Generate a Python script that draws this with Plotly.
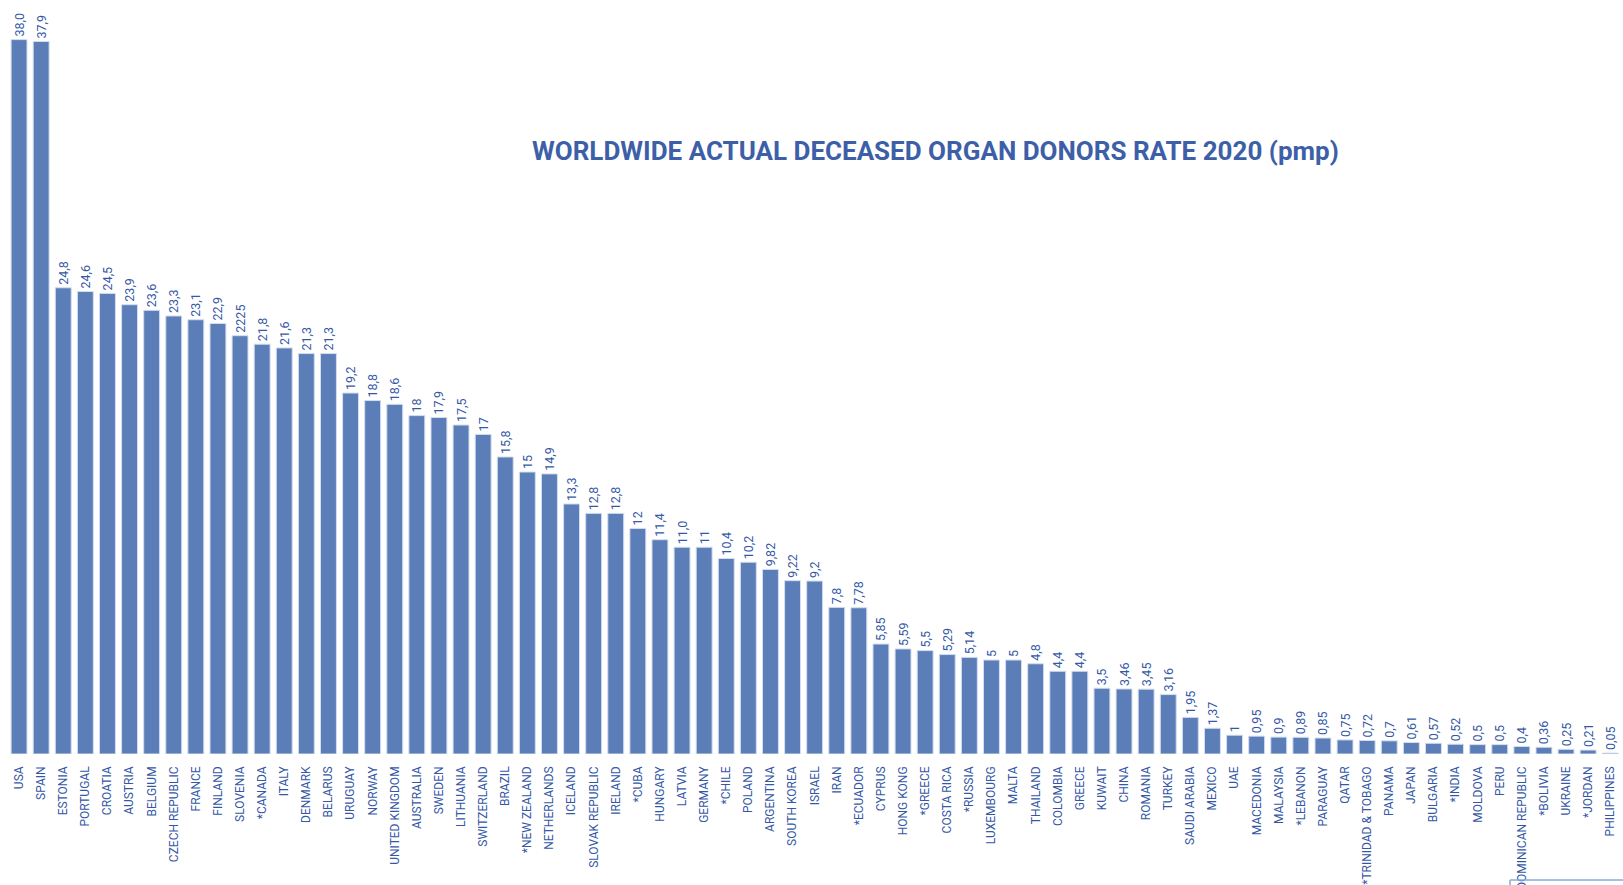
import plotly.graph_objects as go

countries = ["USA", "SPAIN", "ESTONIA", "PORTUGAL", "CROATIA", "AUSTRIA", "BELGIUM",
             "CZECH REPUBLIC", "FRANCE", "FINLAND", "SLOVENIA", "*CANADA", "ITALY",
             "DENMARK", "BELARUS", "URUGUAY", "NORWAY", "UNITED KINGDOM", "AUSTRALIA",
             "SWEDEN", "LITHUANIA", "SWITZERLAND", "BRAZIL", "*NEW ZEALAND", "NETHERLANDS",
             "ICELAND", "SLOVAK REPUBLIC", "IRELAND", "*CUBA", "HUNGARY", "LATVIA",
             "GERMANY", "*CHILE", "POLAND", "ARGENTINA", "SOUTH KOREA", "ISRAEL", "IRAN",
             "*ECUADOR", "CYPRUS", "HONG KONG", "*GREECE", "COSTA RICA", "*RUSSIA",
             "LUXEMBOURG", "MALTA", "THAILAND", "COLOMBIA", "GREECE", "KUWAIT", "CHINA",
             "ROMANIA", "TURKEY", "SAUDI ARABIA", "MEXICO", "UAE", "MACEDONIA", "MALAYSIA",
             "*LEBANON", "PARAGUAY", "QATAR", "*TRINIDAD & TOBAGO", "PANAMA", "JAPAN",
             "BULGARIA", "*INDIA", "MOLDOVA", "PERU", "DOMINICAN REPUBLIC", "*BOLIVIA",
             "UKRAINE", "*JORDAN", "PHILIPPINES"]

rates = [38.0, 37.9, 24.8, 24.6, 24.5, 23.9, 23.6, 23.3, 23.1, 22.9, 22.25, 21.8, 21.6,
         21.3, 21.3, 19.2, 18.8, 18.6, 18.0, 17.9, 17.5, 17.0, 15.8, 15.0, 14.9, 13.3,
         12.8, 12.8, 12.0, 11.4, 11.0, 11.0, 10.4, 10.2, 9.82, 9.22, 9.2, 7.8, 7.78, 5.85,
         5.59, 5.5, 5.29, 5.14, 5.0, 5.0, 4.8, 4.4, 4.4, 3.5, 3.46, 3.45, 3.16, 1.95, 1.37,
         1.0, 0.95, 0.9, 0.89, 0.85, 0.75, 0.72, 0.7, 0.61, 0.57, 0.52, 0.5, 0.5, 0.4,
         0.36, 0.25, 0.21, 0.05]

value_labels = ["38,0", "37,9", "24,8", "24,6", "24,5", "23,9", "23,6", "23,3", "23,1",
                "22,9", "2225", "21,8", "21,6", "21,3", "21,3", "19,2", "18,8", "18,6",
                "18", "17,9", "17,5", "17", "15,8", "15", "14,9", "13,3", "12,8", "12,8",
                "12", "11,4", "11,0", "11", "10,4", "10,2", "9,82", "9,22", "9,2", "7,8",
                "7,78", "5,85", "5,59", "5,5", "5,29", "5,14", "5", "5", "4,8", "4,4", "4,4",
                "3,5", "3,46", "3,45", "3,16", "1,95", "1,37", "1", "0,95", "0,9", "0,89",
                "0,85", "0,75", "0,72", "0,7", "0,61", "0,57", "0,52", "0,5", "0,5", "0,4",
                "0,36", "0,25", "0,21", "0,05"]

title_text = "WORLDWIDE ACTUAL DECEASED ORGAN DONORS RATE 2020 (pmp)"

W, H = 1623, 885
ML, MR, MT, MB = 8, 0, 0, 131
PW = W - ML - MR
PH = H - MT - MB

FONT = "Roboto, Liberation Sans, sans-serif"
TXT = "#3558a5"

fig = go.Figure(go.Bar(
    x=countries,
    y=rates,
    text=value_labels,
    textposition="outside",
    textangle=-90,
    textfont=dict(family=FONT, size=12.5, color=TXT),
    cliponaxis=False,
    marker=dict(color="#5b7eb8", line=dict(color="#d5deef", width=1)),
    hoverinfo="x+y",
))

pitch = 22.1
x_end = PW / pitch - 0.5

def px_to_paper_x(px):
    return (px - ML) / PW

def px_to_paper_y(py):
    return (H - MB - py) / PH

fig.update_layout(
    width=W, height=H,
    margin=dict(l=ML, r=MR, t=MT, b=MB, autoexpand=False),
    paper_bgcolor="white",
    plot_bgcolor="white",
    showlegend=False,
    bargap=0.28,
    uniformtext=dict(minsize=12.5, mode="show"),
    xaxis=dict(
        type="category",
        range=[-0.5, x_end],
        tickangle=-90,
        tickfont=dict(family=FONT, size=12, color=TXT),
        showgrid=False, showline=False, zeroline=False,
        ticks="", ticklabelstandoff=9,
        automargin=False,
        fixedrange=True,
    ),
    yaxis=dict(
        range=[0, PH / 18.8],
        visible=False,
        showgrid=False, zeroline=False,
        fixedrange=True,
    ),
    annotations=[dict(
        text=title_text,
        xref="paper", yref="paper",
        x=px_to_paper_x(935), y=px_to_paper_y(151),
        xanchor="center", yanchor="middle",
        showarrow=False,
        font=dict(family=FONT, size=26, color="#3d5fa8", weight="bold"),
    )],
    shapes=[
        dict(type="line", xref="paper", yref="paper",
             x0=px_to_paper_x(1510), x1=px_to_paper_x(1640),
             y0=px_to_paper_y(880), y1=px_to_paper_y(880),
             line=dict(color="#8ea8d8", width=1.5)),
        dict(type="line", xref="paper", yref="paper",
             x0=px_to_paper_x(1510), x1=px_to_paper_x(1510),
             y0=px_to_paper_y(880), y1=px_to_paper_y(890),
             line=dict(color="#8ea8d8", width=1.5)),
    ],
)

fig.write_html("out.html", config={"displayModeBar": False},
               post_script="document.body.style.margin='0';document.body.style.overflow='hidden';")
